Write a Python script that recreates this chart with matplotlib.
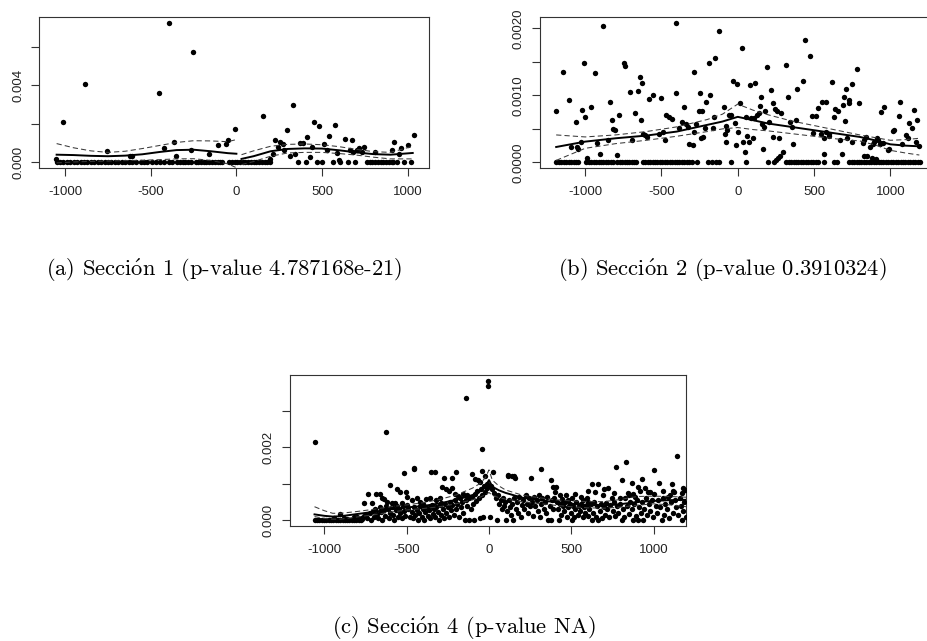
import matplotlib
matplotlib.use("Agg")
import matplotlib.pyplot as plt
import numpy as np

plt.rcParams['mathtext.fontset'] = 'cm'

# ---------------- Panel (a): Sección 1 ----------------
a_zero_x = [-1050, -1030, -1010, -990, -970, -950, -930, -910, -890, -870, -850, -830,
            -810, -790, -770, -750, -730, -710, -690, -670, -650, -630, -610,
            -585, -560, -540, -520, -495, -470, -445, -420, -395, -375,
            -346, -330, -314, -298, -282, -266, -238, -222, -206, -190, -176,
            -158, -142, -126, -110, -94, -82,
            -41, -27, -11, 5, 21, 37, 53, 69, 85, 101, 117, 133, 149, 165, 180, 195,
            358, 404, 469, 498, 563, 604, 650, 692,
            762, 778, 794, 810, 826, 842, 858, 874, 890, 906, 914, 938, 979, 1020]
a_x = [-1015, -884, -393, -454, -252, -1056, -757, -624, -610, -424, -362, -350, -264,
       -160, -108, -63, -49, -6,
       154, 328, 295, 223, 243, 257, 270, 280, 311, 342, 215, 196, 371, 387, 414, 428,
       442, 456, 485, 514, 530, 543, 577, 587, 602, 633, 661, 675, 680, 706, 719, 731,
       745, 809, 907, 921, 948, 964, 1005, 1036]
a_y = [0.00207, 0.00409, 0.00729, 0.00358, 0.00577, 0.00017, 0.00059, 0.00030, 0.00030,
       0.00071, 0.00106, 0.00033, 0.00063, 0.00043, 0.00087, 0.00094, 0.00117, 0.00172,
       0.00240, 0.00300, 0.00169, 0.00115, 0.00080, 0.00103, 0.00094, 0.00061, 0.00030,
       0.00043, 0.00043, 0.00016, 0.00099, 0.00099, 0.00129, 0.00028, 0.00080, 0.00207,
       0.00190, 0.00096, 0.00061, 0.00136, 0.00195, 0.00047, 0.00010, 0.00120, 0.00061,
       0.00115, 0.00050, 0.00061, 0.00073, 0.00054, 0.00080, 0.00050, 0.00064, 0.00103,
       0.00043, 0.00073, 0.00090, 0.00139]
a_left_x = [-1050, -950, -850, -750, -650, -550, -450, -350, -250, -150, -50, 0]
a_left_fit = [0.00038, 0.00036, 0.00032, 0.00030, 0.00033, 0.00040, 0.00052, 0.00062,
              0.00064, 0.00056, 0.00046, 0.00043]
a_left_up = [0.00096, 0.00074, 0.00058, 0.00050, 0.00056, 0.00070, 0.00086, 0.00102,
             0.00111, 0.00110, 0.00106, 0.00117]
a_left_lo = [-0.00005, 0.00000, 0.00003, 0.00005, 0.00007, 0.00009, 0.00012, 0.00016,
             0.00017, 0.00008, -0.00010, -0.00030]
a_right_x = [30, 100, 200, 300, 400, 500, 600, 700, 800, 900, 1030]
a_right_fit = [0.00016, 0.00030, 0.00056, 0.00068, 0.00071, 0.00070, 0.00061, 0.00050,
               0.00041, 0.00038, 0.00047]
a_right_up = [0.00038, 0.00058, 0.00082, 0.00092, 0.00094, 0.00090, 0.00080, 0.00066,
              0.00054, 0.00050, 0.00082]
a_right_lo = [-0.00014, 0.00002, 0.00030, 0.00047, 0.00050, 0.00050, 0.00044, 0.00036,
              0.00025, 0.00016, 0.00016]

# ---------------- Panel (b): Sección 2 ----------------
b_zero_x = [-1188, -1172, -1156, -1140, -1124, -1108, -1092, -1076, -1060, -1044,
            -992, -976, -960, -944, -928, -912, -896, -880, -864, -848, -832, -816,
            -790, -774, -758, -742, -726, -710, -694, -678, -666,
            -622, -606, -590, -574, -558, -542, -526, -510, -494, -478, -462, -446,
            -430, -414, -398, -382, -366, -350, -334, -318, -302,
            -264, -198, -172, -140, -120, -41, 57, 195, 240,
            318, 334, 350, 366, 382, 398, 414, 430, 446, 462, 478, 494, 510, 526,
            567, 632, 652,
            731, 747, 763, 779, 795, 811, 827, 843, 859, 875, 891, 907, 923, 939, 955,
            971, 987, 1003, 1019, 1035, 1051, 1067, 1083, 1099, 1115, 1131, 1147, 1163,
            1179, 1192]
b_x = [-1190, -1142, -1105, -1092, -1059, -1053, -1046, -1027, -1018, -1005, -998, -990,
       -961, -937, -924, -902, -880, -834, -825, -817, -804, -848, -789, -778, -747, -741,
       -706, -692, -673, -657, -642, -627, -636, -620, -607, -596, -581, -553, -513, -500,
       -487, -478, -469, -452, -430, -404, -404, -382, -367, -354, -339, -323, -317, -295,
       -284, -273, -288, -251, -247, -232, -229, -238, -216, -208, -190, -179, -164, -157,
       -146, -120, -92, -85, -76, -70, -74, -55, -44, -33, -20, -11, -7, 0, 15, 28, 35,
       48, 55, 63, 72, 81, 111, 87, 109, 103, 129, 142, 153, 146, 159, 175, 168, 181, 190,
       205, 218, 229, 234, 247, 258, 273, 284, 295, 250, 265, 280, 317, 328, 343, 356,
       365, 382, 389, 426, 443, 476, 487, 513, 491, 526, 555, 581, 546, 568, 579, 596,
       601, 564, 618, 629, 640, 655, 671, 681, 688, 695, 703, 710, 716, 732, 727, 747,
       749, 780, 797, 819, 830, 841, 830, 847, 867, 885, 896, 880, 907, 911, 920, 930,
       950, 941, 957, 983, 994, 1016, 1027, 1064, 1059, 1077, 1103, 1114, 1125, 1142,
       1158, 1169, 1175, 1190]
b_y = [0.00077, 0.00135, 0.00093, 0.00023, 0.00060, 0.00023, 0.00020, 0.00030, 0.00078,
       0.00148, 0.00068, 0.00007, 0.00082, 0.00134, 0.00029, 0.00013, 0.00203, 0.00090,
       0.00063, 0.00050, 0.00048, 0.00033, 0.00011, 0.00070, 0.00149, 0.00144, 0.00105,
       0.00033, 0.00073, 0.00106, 0.00127, 0.00118, 0.00063, 0.00043, 0.00041, 0.00038,
       0.00095, 0.00101, 0.00043, 0.00096, 0.00046, 0.00034, 0.00071, 0.00068, 0.00065,
       0.00208, 0.00104, 0.00051, 0.00061, 0.00082, 0.00058, 0.00053, 0.00028, 0.00026,
       0.00135, 0.00058, 0.00046, 0.00076, 0.00104, 0.00077, 0.00038, 0.00036, 0.00051,
       0.00090, 0.00148, 0.00100, 0.00051, 0.00068, 0.00156, 0.00196, 0.00082, 0.00043,
       0.00054, 0.00048, 0.00031, 0.00070, 0.00071, 0.00122, 0.00059, 0.00026, 0.00117,
       0.00046, 0.00088, 0.00171, 0.00031, 0.00015, 0.00068, 0.00039, 0.00031, 0.00116,
       0.00118, 0.00067, 0.00067, 0.00037, 0.00070, 0.00074, 0.00098, 0.00084, 0.00058,
       0.00053, 0.00020, 0.00077, 0.00142, 0.00060, 0.00108, 0.00088, 0.00038, 0.00079,
       0.00076, 0.00037, 0.00074, 0.00016, 0.00003, 0.00006, 0.00010, 0.00146, 0.00098,
       0.00061, 0.00053, 0.00028, 0.00063, 0.00110, 0.00122, 0.00182, 0.00159, 0.00069,
       0.00069, 0.00044, 0.00081, 0.00090, 0.00090, 0.00043, 0.00036, 0.00046, 0.00039,
       0.00043, 0.00013, 0.00120, 0.00068, 0.00079, 0.00077, 0.00034, 0.00012, 0.00086,
       0.00098, 0.00062, 0.00109, 0.00036, 0.00093, 0.00088, 0.00117, 0.00031, 0.00139,
       0.00088, 0.00029, 0.00033, 0.00038, 0.00010, 0.00009, 0.00023, 0.00028, 0.00031,
       0.00006, 0.00005, 0.00036, 0.00033, 0.00028, 0.00029, 0.00075, 0.00083, 0.00018,
       0.00020, 0.00047, 0.00048, 0.00090, 0.00069, 0.00027, 0.00041, 0.00036, 0.00059,
       0.00051, 0.00078, 0.00031, 0.00063, 0.00024]
b_line_x = [-1190, -1000, -800, -600, -400, -200, -100, 0, 100, 200, 350, 500, 650, 800,
            900, 1000, 1100, 1190]
b_fit = [0.00023, 0.00031, 0.00036, 0.00040, 0.00046, 0.00056, 0.00061, 0.00068, 0.00063,
         0.00058, 0.00053, 0.00048, 0.00043, 0.00038, 0.00033, 0.00027, 0.00025, 0.00024]
b_up = [0.00041, 0.00038, 0.00041, 0.00046, 0.00053, 0.00064, 0.00072, 0.00087, 0.00078,
        0.00071, 0.00062, 0.00055, 0.00048, 0.00041, 0.00037, 0.00033, 0.00034, 0.00036]
b_lo = [0.00003, 0.00021, 0.00028, 0.00033, 0.00039, 0.00046, 0.00050, 0.00052, 0.00049,
        0.00047, 0.00043, 0.00039, 0.00035, 0.00032, 0.00026, 0.00018, 0.00014, 0.00011]

# ---------------- Panel (c): Sección 4 (values in units of 1e-3) ----------------
c_x = [-1058, -1044, -1030, -1016, -1002, -988, -974, -960, -946, -932, -918, -904, -890,
       -876, -862, -848, -834, -820, -806, -792, -778,
       -1057, -904, -940, -880, -860, -820, -800, -780, -760, -770,
       -757, -733, -713, -688, -662, -648, -636, -622, -600, -591, -571, -557, -541, -531,
       -507, -499, -628, -514, -458,
       -750, -740, -725, -715, -705, -700, -690, -680, -672, -665, -655, -650, -640, -632,
       -625, -615, -608, -600, -590, -582, -575, -568, -560, -552, -545, -538, -530, -522,
       -515, -508, -500,
       -455, -352, -328, -271, -223, -202, -142, -105, -44, -42, -6, -4,
       -284, -263, -241, -227, -206, -186, -156, -136, -88, -68, -55, -22, -30, -15,
       -470, -440, -420, -400, -380, -360, -345, -320, -300, -290,
       -490, -480, -470, -462, -455, -448, -440, -432, -425, -418, -410, -402, -395, -388,
       -380, -372, -365, -358, -350, -342, -335, -328, -320, -312, -305, -298, -290, -282,
       -275, -268, -260, -252, -245, -238, -230, -222, -215, -208, -200, -192, -185, -178,
       -170, -162, -155, -148, -140, -132, -124, -119, -112, -104, -96, -91, -85, -78, -70,
       -62, -55, -48, -40, -34, -26, -18, -10, 6,
       23, 113, 118, 138, 154, 158, 255, 318, 374, 391, 401,
       10, 18, 30, 40, 47, 55, 62, 70, 78, 85, 92, 100, 104, 110, 120, 128, 135, 142, 148,
       155, 162, 170, 178, 185, 194, 200, 208, 215, 222, 230, 238, 245, 252, 260, 268,
       275, 282, 290, 298, 305, 310, 318, 325, 332, 340, 348, 355, 360, 368, 376, 382,
       390, 398,
       409, 628, 660, 725, 770, 806, 830, 867, 932, 1005, 1035, 1110, 1144, 1181, 903, 948,
       964, 1120, 1126, 843, 877, 887, 796, 826, 745, 644, 573, 593, 604, 502, 482, 441,
       411,
       425, 502, 624, 665, 806, 877, 907, 938, 1049, 1170,
       420, 430, 438, 448, 456, 464, 472, 480, 490, 498, 508, 515, 522, 530, 538, 546, 554,
       562, 570, 578, 586, 594, 602, 610, 618, 632, 640, 648, 656, 672, 680, 688, 696, 704,
       712, 720, 730, 738, 752, 760, 768, 778, 786, 794, 812, 820, 836, 850, 858, 866, 884,
       892, 898, 914, 922, 930, 944, 952, 958, 972, 980, 988, 996, 1012, 1020, 1028, 1042,
       1056, 1064, 1072, 1080, 1088, 1096, 1104, 1116, 1132, 1138, 1150, 1158, 1164, 1176,
       1186, 1194,
       432, 470, 520, 560, 600, 690, 700, 760, 850, 920, 980, 1000, 1060, 1100, 1170, 1190]
c_y = [0, 0, 0, 0, 0, 0, 0, 0, 0, 0, 0, 0, 0, 0, 0, 0, 0, 0, 0, 0, 0,
       2.15, 0.17, 0.05, 0.06, 0.03, 0.08, 0.10, 0.05, 0.12, 0.02,
       0.48, 0.71, 0.48, 0.73, 0.72, 0.61, 0.57, 0.51, 0.97, 0.48, 0.46, 0.86, 0.78, 0.48,
       0.78, 0.65, 2.42, 1.30, 1.40,
       0.15, 0.05, 0.20, 0.00, 0.25, 0.10, 0.30, 0.18, 0.05, 0.35, 0.22, 0.00, 0.28, 0.12,
       0.40, 0.30, 0.05, 0.20, 0.35, 0.15, 0.00, 0.28, 0.40, 0.10, 0.32, 0.20, 0.05, 0.38,
       0.25, 0.12, 0.42,
       1.42, 1.33, 1.33, 1.17, 1.17, 1.31, 3.36, 1.28, 1.36, 1.94, 3.68, 3.82,
       0.90, 0.85, 0.81, 0.87, 0.72, 0.66, 0.72, 0.68, 1.13, 1.09, 1.06, 1.20, 0.95, 0.88,
       0.55, 0.62, 0.50, 0.45, 0.58, 0.60, 0.42, 0.55, 0.60, 0.48,
       0.30, 0.10, 0.22, 0.05, 0.35, 0.15, 0.28, 0.00, 0.20, 0.38, 0.10, 0.30, 0.00, 0.22,
       0.35, 0.12, 0.28, 0.05, 0.40, 0.18, 0.30, 0.08, 0.35, 0.22, 0.00, 0.42, 0.15, 0.30,
       0.05, 0.45, 0.20, 0.35, 0.10, 0.50, 0.28, 0.42, 0.15, 0.55, 0.30, 0.45, 0.08, 0.60,
       0.35, 0.50, 0.20, 0.00, 0.55, 0.40, 0.62, 0.00, 0.30, 0.65, 0.45, 0.00, 0.72, 0.52,
       0.80, 0.60, 0.05, 0.85, 0.70, 0.10, 0.78, 0.92, 1.00, 0.08,
       1.33, 1.24, 1.22, 1.20, 1.20, 1.17, 1.17, 1.41, 1.10, 0.90, 0.78,
       0.95, 0.85, 0.75, 0.62, 0.00, 0.70, 0.45, 0.55, 0.30, 0.60, 0.40, 0.50, 0.00, 0.25,
       0.55, 0.35, 0.15, 0.45, 0.00, 0.60, 0.30, 0.50, 0.20, 0.65, 0.10, 0.42, 0.55, 0.30,
       0.70, 0.45, 0.20, 0.60, 0.38, 0.50, 0.12, 0.65, 0.40, 0.55, 0.25, 0.70, 0.10, 0.45,
       0.60, 0.30, 0.50, 0.20, 0.65, 0.00, 0.40, 0.00, 0.55, 0.30, 0.60,
       0.91, 0.99, 0.99, 0.88, 1.45, 1.10, 1.60, 1.03, 1.12, 1.37, 1.03, 0.99, 1.77, 0.88,
       0.91, 0.89, 0.77, 0.80, 0.77, 0.75, 0.72, 0.65, 0.60, 0.60, 0.62, 0.77, 0.55, 0.60,
       0.50, 0.60, 0.55, 0.58, 0.50,
       0, 0, 0, 0, 0, 0, 0, 0, 0, 0,
       0.30, 0.45, 0.15, 0.40, 0.25, 0.50, 0.10, 0.35, 0.45, 0.20, 0.40, 0.10, 0.30, 0.50,
       0.15, 0.38, 0.25, 0.45, 0.08, 0.35, 0.20, 0.42, 0.12, 0.30, 0.45, 0.20, 0.50, 0.10,
       0.38, 0.25, 0.45, 0.05, 0.35, 0.15, 0.48, 0.30, 0.10, 0.42, 0.25, 0.50, 0.12, 0.38,
       0.20, 0.45, 0.30, 0.08, 0.40, 0.18, 0.50, 0.30, 0.45, 0.12, 0.55, 0.35, 0.20, 0.50,
       0.30, 0.60, 0.15, 0.45, 0.25, 0.55, 0.10, 0.40, 0.20, 0.55, 0.35, 0.62, 0.15, 0.45,
       0.30, 0.65, 0.05, 0.50, 0.20, 0.55, 0.35, 0.15, 0.60, 0.40, 0.25, 0.50, 0.10,
       0.70, 0.68, 0.72, 0.65, 0.80, 0.70, 0.85, 0.75, 0.68, 0.80, 0.78, 0.72, 0.80, 0.70,
       0.75, 0.82]
c_line_x = [-1060, -1000, -950, -900, -800, -700, -600, -500, -400, -300, -200, -100,
            -50, -20, 0, 20, 60, 100, 200, 300, 400, 500, 600, 700, 800, 900, 1000, 1100,
            1200]
c_fit = [0.16, 0.12, 0.10, 0.11, 0.17, 0.23, 0.30, 0.35, 0.39, 0.46, 0.56, 0.69, 0.80,
         0.94, 1.10, 0.92, 0.82, 0.75, 0.62, 0.55, 0.50, 0.45, 0.42, 0.40, 0.44, 0.50,
         0.53, 0.55, 0.56]
c_up = [0.37, 0.26, 0.19, 0.19, 0.24, 0.30, 0.37, 0.42, 0.48, 0.57, 0.69, 0.88, 1.02,
        1.18, 1.38, 1.10, 0.94, 0.83, 0.69, 0.62, 0.56, 0.53, 0.51, 0.51, 0.57, 0.65,
        0.66, 0.65, 0.63]
c_lo = [0.10, 0.05, 0.03, 0.03, 0.09, 0.15, 0.22, 0.28, 0.32, 0.37, 0.45, 0.56, 0.64,
        0.70, 0.76, 0.68, 0.62, 0.58, 0.51, 0.46, 0.41, 0.37, 0.34, 0.33, 0.36, 0.41,
        0.45, 0.42, 0.37]

# caption texts ("ó" drawn with a Computer Modern accent)
captions = [r"(a) Secci$\acute{\mathrm{o}}$n 1 (p-value 4.787168e-21)",
            r"(b) Secci$\acute{\mathrm{o}}$n 2 (p-value 0.3910324)",
            r"(c) Secci$\acute{\mathrm{o}}$n 4 (p-value NA)"]

W, H = 928, 641
fig = plt.figure(figsize=(W / 100, H / 100), dpi=100)

TICK_FONT = ['Liberation Sans', 'DejaVu Sans']
TXT = '#222222'
DASH_C = '#3a3a3a'


def make_axes(left, top, right, bottom):
    return fig.add_axes([left / W, 1 - bottom / H, (right - left) / W, (bottom - top) / H])


def style(ax, xlim, ylim, yticks, ylabels):
    ax.set_xlim(*xlim)
    ax.set_ylim(*ylim)
    ax.set_xticks([-1000, -500, 0, 500, 1000])
    ax.set_xticklabels(['-1000', '-500', '0', '500', '1000'])
    ax.set_yticks(yticks)
    ax.set_yticklabels(ylabels, rotation=90, va='center')
    for sp in ax.spines.values():
        sp.set_color('#333333')
        sp.set_linewidth(0.8)
    ax.tick_params(direction='out', length=6, width=0.8, color='#333333',
                   labelcolor=TXT, labelsize=9.5)
    ax.tick_params(axis='x', pad=7)
    ax.tick_params(axis='y', pad=5)
    for lab in ax.get_xticklabels() + ax.get_yticklabels():
        lab.set_family(TICK_FONT)


def draw_pts(ax, xs, ys):
    ax.scatter(xs, ys, s=15, color='black', linewidths=0, zorder=3)


# Panel (a)
ax_a = make_axes(39.5, 17, 429, 167.5)
draw_pts(ax_a, a_zero_x, [0.0] * len(a_zero_x))
draw_pts(ax_a, a_x, a_y)
for xs, f, u, l in [(a_left_x, a_left_fit, a_left_up, a_left_lo),
                    (a_right_x, a_right_fit, a_right_up, a_right_lo)]:
    ax_a.plot(xs, f, color='black', lw=1.4, zorder=4)
    ax_a.plot(xs, u, color=DASH_C, lw=0.75, ls=(0, (5, 3)), zorder=4)
    ax_a.plot(xs, l, color=DASH_C, lw=0.75, ls=(0, (5, 3)), zorder=4)
style(ax_a, (-1150, 1125), (-0.00029, 0.00758),
      [0, 0.002, 0.004, 0.006], ['0.000', '', '0.004', ''])

# Panel (b)
ax_b = make_axes(540, 17, 935.5, 168)
draw_pts(ax_b, b_zero_x, [0.0] * len(b_zero_x))
draw_pts(ax_b, b_x, b_y)
ax_b.plot(b_line_x, b_fit, color='black', lw=1.4, zorder=4)
ax_b.plot(b_line_x, b_up, color=DASH_C, lw=0.75, ls=(0, (5, 3)), zorder=4)
ax_b.plot(b_line_x, b_lo, color=DASH_C, lw=0.75, ls=(0, (5, 3)), zorder=4)
style(ax_b, (-1296, 1296), (-0.0000836, 0.00217),
      [0, 0.0005, 0.001, 0.0015, 0.002], ['0.0000', '', '0.0010', '', '0.0020'])

# Panel (c)
ax_c = make_axes(290, 375, 686, 525.8)
draw_pts(ax_c, c_x, [v * 1e-3 for v in c_y])
ax_c.plot(c_line_x, [v * 1e-3 for v in c_fit], color='black', lw=1.4, zorder=4)
ax_c.plot(c_line_x, [v * 1e-3 for v in c_up], color=DASH_C, lw=0.75, ls=(0, (5, 3)), zorder=4)
ax_c.plot(c_line_x, [v * 1e-3 for v in c_lo], color=DASH_C, lw=0.75, ls=(0, (5, 3)), zorder=4)
style(ax_c, (-1209, 1197), (-0.000153, 0.00398),
      [0, 0.001, 0.002, 0.003], ['0.000', '', '0.002', ''])

CAP_FONT = ['cmr10', 'DejaVu Serif']
for txt, cx, cy in [(captions[0], 224, 270), (captions[1], 722, 270), (captions[2], 464, 628)]:
    fig.text(cx / W, 1 - cy / H, txt, ha='center', va='center', fontsize=16.2,
             family=CAP_FONT, color='black')

fig.savefig('out.png', dpi=100)
